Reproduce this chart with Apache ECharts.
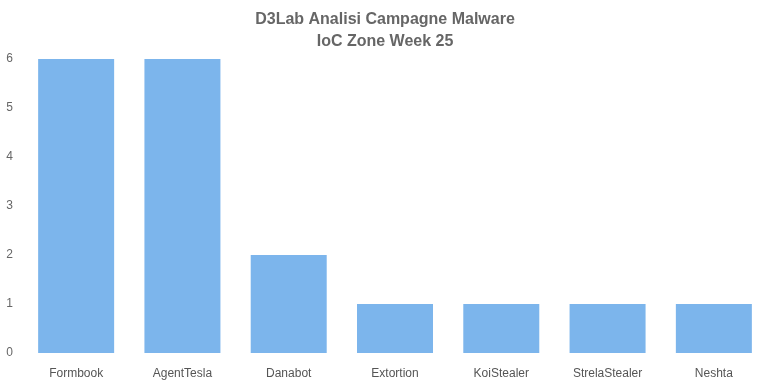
<!DOCTYPE html>
<html>
<head>
<meta charset="utf-8">
<script src="https://cdn.jsdelivr.net/npm/echarts@6/dist/echarts.min.js"></script>
<style>html,body{margin:0;padding:0;background:#fff}#c{width:770px;height:385px}</style>
</head>
<body>
<div id="c"></div>
<script>
const categories = ["Formbook", "AgentTesla", "Danabot", "Extortion", "KoiStealer", "StrelaStealer", "Neshta"];
const values = [6, 6, 2, 1, 1, 1, 1];
const yTicks = [0, 1, 2, 3, 4, 5, 6];

const chart = echarts.init(document.getElementById('c'), null, {renderer: 'canvas'});
chart.setOption({
  animation: false,
  backgroundColor: '#ffffff',
  title: {
    text: 'D3Lab Analisi Campagne Malware\nIoC Zone Week 25',
    left: 'center',
    top: 4,
    textStyle: {
      fontFamily: 'Liberation Sans, Arial, sans-serif',
      fontWeight: 'bold',
      fontSize: 16,
      color: '#666666',
      lineHeight: 22
    }
  },
  grid: {left: 23, right: 3, top: 59, bottom: 32, containLabel: false},
  xAxis: {
    type: 'category',
    data: categories,
    axisLine: {show: false},
    axisTick: {show: false},
    axisLabel: {
      color: '#555555',
      fontFamily: 'Liberation Sans, Arial, sans-serif',
      fontSize: 12,
      margin: 15
    }
  },
  yAxis: {
    type: 'value',
    min: yTicks[0],
    max: yTicks[yTicks.length - 1],
    interval: 1,
    splitLine: {show: false},
    axisLine: {show: false},
    axisTick: {show: false},
    axisLabel: {
      color: '#666666',
      fontFamily: 'Liberation Sans, Arial, sans-serif',
      fontSize: 12,
      margin: 10
    }
  },
  series: [{
    type: 'bar',
    data: values,
    barWidth: 76,
    itemStyle: {color: '#7cb5ec'}
  }]
});
</script>
</body>
</html>
